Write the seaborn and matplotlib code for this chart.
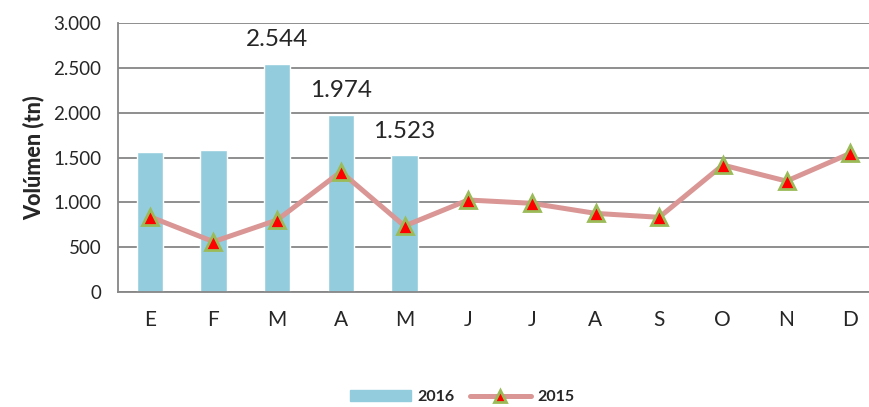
import numpy as np
import pandas as pd
import seaborn as sns
import matplotlib.pyplot as plt
from matplotlib.patches import Patch
from matplotlib.lines import Line2D

months = ['E', 'F', 'M', 'A', 'M', 'J', 'J', 'A', 'S', 'O', 'N', 'D']
vol_2016 = [1561, 1583, 2544, 1974, 1523, np.nan, np.nan, np.nan, np.nan, np.nan, np.nan, np.nan]
vol_2015 = [840, 561, 803, 1341, 736, 1026, 989, 877, 833, 1416, 1237, 1546]
labelled = {2: '2.544', 3: '1.974', 4: '1.523'}

bar_color = '#93CDDD'
line_color = '#D99694'
grid_color = '#868686'

sns.set_style('white')
plt.rcParams['font.family'] = ['Lato', 'DejaVu Sans']

df = pd.DataFrame({'idx': range(12), 'v2016': vol_2016, 'v2015': vol_2015})

fig = plt.figure(figsize=(8.69, 4.07), dpi=100)
ax = fig.add_axes([118 / 869, 1 - 292 / 407, 764 / 869, 269 / 407])

sns.barplot(data=df, x='idx', y='v2016', order=list(range(12)), color=bar_color,
            width=0.41, saturation=1, ax=ax, zorder=2)
sns.lineplot(data=df, x='idx', y='v2015', color=line_color, linewidth=3.6,
             marker='^', markersize=11, markerfacecolor='red',
             markeredgecolor='#9BBB59', markeredgewidth=2, ax=ax, zorder=3)

for i, txt in labelled.items():
    ax.annotate(txt, (i, vol_2016[i]), xytext=(0, 10), textcoords='offset points',
                ha='center', va='bottom', fontsize=17.5)

ax.set_ylim(0, 3000)
ax.set_xlim(-0.5, 11.5)
ax.set_yticks(range(0, 3001, 500))
ax.set_yticklabels(['0', '500', '1.000', '1.500', '2.000', '2.500', '3.000'], fontsize=13.5)
ax.set_xticks(range(12))
ax.set_xticklabels(months, fontsize=15)
ax.set_xticks(np.arange(-0.5, 12, 1), minor=True)
ax.tick_params(axis='x', which='major', length=0, pad=13)
ax.tick_params(axis='x', which='minor', length=7, width=1.3, color=grid_color, direction='out')
ax.tick_params(axis='y', length=7, width=1.3, color=grid_color, pad=5)
ax.yaxis.grid(True, color=grid_color, linewidth=1.3, zorder=0)
ax.set_axisbelow(True)
ax.set_xlabel('')
ax.set_ylabel('Volúmen (tn)', fontsize=15.5, fontweight='black', labelpad=6)
for s in ['top', 'right']:
    ax.spines[s].set_visible(False)
for s in ['left', 'bottom']:
    ax.spines[s].set_color(grid_color)
    ax.spines[s].set_linewidth(1.3)

handles = [Patch(color=bar_color),
           Line2D([], [], color=line_color, linewidth=3.6, marker='^', markersize=9,
                  markerfacecolor='red', markeredgecolor='#9BBB59', markeredgewidth=2)]
fig.legend(handles, ['2016', '2015'], loc='center', bbox_to_anchor=(462 / 869, 1 - 397 / 407),
           ncol=2, frameon=False, prop={'size': 11.5, 'weight': 'bold'},
           handlelength=3.8, columnspacing=1.0, handletextpad=0.4)

fig.savefig('out.png', dpi=100)
